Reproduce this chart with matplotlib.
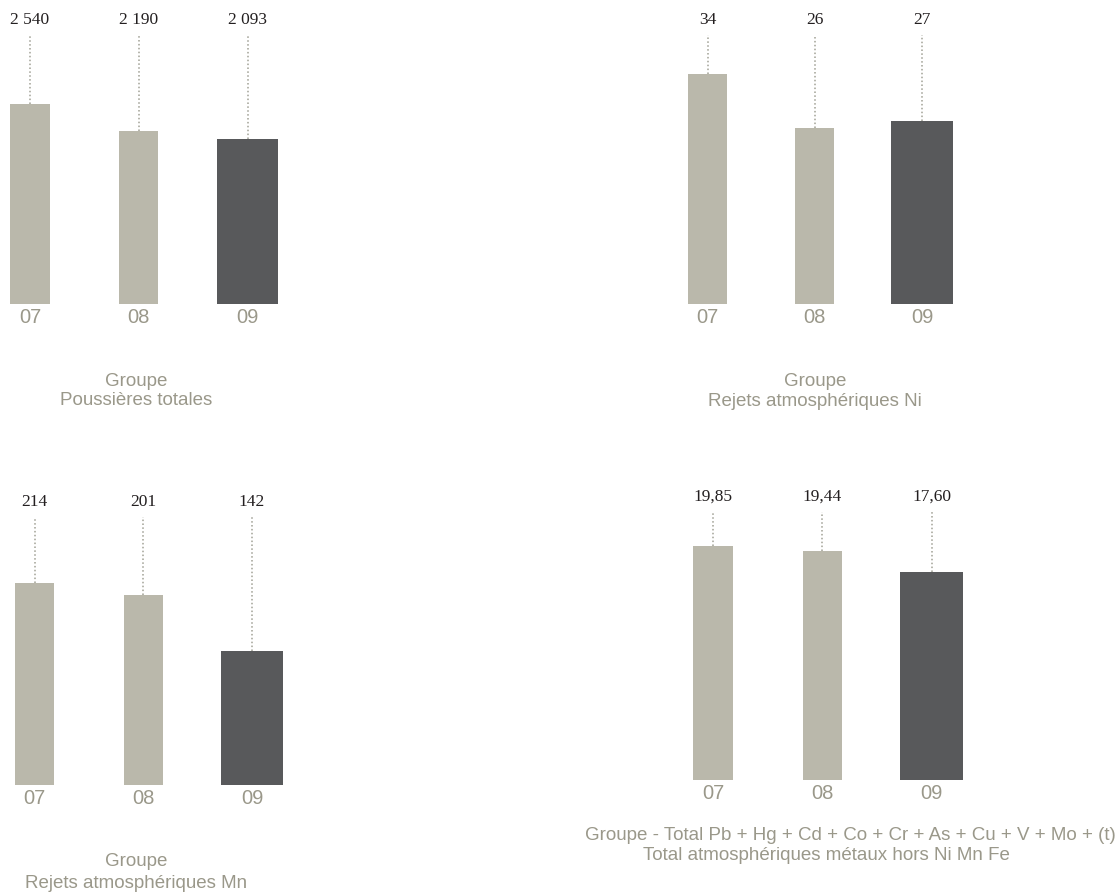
import matplotlib
matplotlib.use("Agg")
import matplotlib.pyplot as plt

# Yearly values for the four indicators
years = ["07", "08", "09"]
dust_total = [2540, 2190, 2093]
nickel = [34, 26, 27]
manganese = [214, 201, 142]
other_metals = [19.85, 19.44, 17.60]

dust_labels = ["2 540", "2 190", "2 093"]
nickel_labels = ["34", "26", "27"]
manganese_labels = ["214", "201", "142"]
metals_labels = ["19,85", "19,44", "17,60"]

titles_dust = ["Groupe", "Poussières totales"]
titles_nickel = ["Groupe", "Rejets atmosphériques Ni"]
titles_manganese = ["Groupe", "Rejets atmosphériques Mn"]
titles_metals = ["Groupe - Total Pb + Hg + Cd + Co + Cr + As + Cu + V + Mo + (t)",
                 "Total atmosphériques métaux hors Ni Mn Fe"]

LIGHT = "#bab8ab"
DARK = "#58595b"
DOTS = "#b5b5ac"
GREY_TEXT = "#9a988a"
VALUE_TEXT = "#231f20"

W, H = 1119, 893
fig = plt.figure(figsize=(W / 100, H / 100), dpi=100)
fig.patch.set_facecolor("white")


def bar_panel(values, labels, center0, spacing, base, top, ymax):
    # axes placed in pixel terms: x index 0..2 on bar centres, y=0 on bar base
    left = center0 - 0.5 * spacing
    ax = fig.add_axes([left / W, (H - base) / H, 3 * spacing / W, (base - top) / H])
    ax.set_xlim(-0.5, 2.5)
    ax.set_ylim(0, ymax)
    colors = [LIGHT, LIGHT, DARK]
    widths = [0.36, 0.36, 0.57]
    ax.bar(range(len(values)), values, width=widths, color=colors, zorder=2)

    # dotted leader from the value label down to the bar top
    dot_top = ymax * (1 - 15 / (base - top))
    for i, v in enumerate(values):
        ax.plot([i, i], [v, dot_top], color=DOTS, lw=1.4,
                linestyle=(0, (0.8, 1.2)), solid_capstyle="butt", zorder=1)
        ax.text(i, 1.0, labels[i], transform=ax.get_xaxis_transform(),
                ha="center", va="center", fontsize=12.5,
                family="Liberation Serif", color=VALUE_TEXT)

    ax.set_xticks(range(len(years)))
    ax.set_xticklabels(years, fontsize=14.5, family="Liberation Sans", color=GREY_TEXT)
    ax.tick_params(axis="x", length=0, pad=3)
    ax.set_yticks([])
    for s in ax.spines.values():
        s.set_visible(False)
    ax.patch.set_alpha(0)
    return ax


def panel_title(lines, xs, ys):
    for text, x, y in zip(lines, xs, ys):
        fig.text(x / W, 1 - y / H, text, ha="center", va="center",
                 fontsize=13.5, family="Liberation Sans", color=GREY_TEXT)


bar_panel(dust_total, dust_labels, 30, 108.75, 304, 20, 3600)
bar_panel(nickel, nickel_labels, 707.5, 107.25, 303.5, 20, 42)
bar_panel(manganese, manganese_labels, 34.5, 108.75, 785, 502, 300)
bar_panel(other_metals, metals_labels, 713, 109.3, 780, 497, 24)

panel_title(titles_dust, [136, 136], [381, 401])
panel_title(titles_nickel, [815, 815], [381, 402])
panel_title(titles_manganese, [136, 136], [862, 883])
panel_title(titles_metals, [850, 826], [835, 855])

fig.savefig("out.png", dpi=100, facecolor="white")
